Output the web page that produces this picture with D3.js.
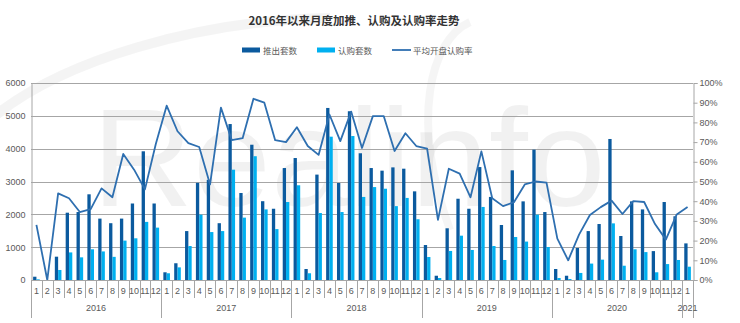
<!DOCTYPE html>
<html>
<head>
<meta charset="utf-8">
<script src="https://cdn.jsdelivr.net/npm/d3@7"></script>
<style>
  html, body { margin: 0; padding: 0; background: #fff; }
  svg { display: block; font-family: "Liberation Sans", Arial, "Noto Sans CJK SC", sans-serif; }
</style>
</head>
<body>
<svg id="chart" width="740" height="323"></svg>
<script>
// Month labels along the category axis (Jan 2016 – Jan 2021)
const months = [
  1,2,3,4,5,6,7,8,9,10,11,12,
  1,2,3,4,5,6,7,8,9,10,11,12,
  1,2,3,4,5,6,7,8,9,10,11,12,
  1,2,3,4,5,6,7,8,9,10,11,12,
  1,2,3,4,5,6,7,8,9,10,11,12,
  1
];
const years = ["2016", "2017", "2018", "2019", "2020", "2021"];
const yearMonthCounts = [12, 12, 12, 12, 12, 1];

// 推出套数 (units launched)
const launched = [
  100, 0, 710, 2050, 2070, 2610, 1870, 1730, 1870, 2330, 3920, 2330,
  235, 510, 1490, 2960, 3050, 1730, 4750, 2650, 4120, 2400, 2170, 3410,
  3715, 335, 3210, 5240, 2955, 5140, 3860, 3410, 3330, 3430, 3390, 2700,
  1065, 130, 1575, 2475, 2170, 3440, 2530, 1675, 3340, 2395, 3970, 2070,
  335, 130, 975, 1490, 1705, 4295, 1340, 2395, 2150, 880, 2375, 1940,
  1115
];
// 认购套数 (units subscribed)
const subscribed = [
  20, 0, 305, 840, 690, 935, 870, 705, 1200, 1270, 1770, 1595,
  205, 385, 1035, 1990, 1460, 1490, 3360, 1900, 3770, 2150, 1550, 2375,
  2885, 205, 2040, 4365, 2070, 4385, 2530, 2830, 2780, 2250, 2500, 1850,
  700, 60, 885, 1350, 915, 2225, 1035, 610, 1310, 1170, 1990, 1005,
  60, 30, 215, 500, 620, 1725, 435, 935, 850, 235, 485, 610,
  405
];
// 平均开盘认购率 (%)
const rate = [
  28, 0, 44, 41.5, 34.5, 36, 46.5, 42, 64, 56, 46, 69,
  88.5, 75.5, 69.5, 67.5, 48.5, 87.5, 71, 72, 92, 90, 71, 70,
  77.5, 68, 63.5, 84, 70.5, 85.5, 67, 83.2, 83.2, 65.5, 74.5, 68,
  66.7, 30.5, 56.5, 54, 42, 65.3, 41.5, 37.5, 39.5, 48.5, 50, 49.4,
  21, 10, 23, 33, 37, 40.3, 33.5, 40, 39.6, 28.4, 20.5, 33.3,
  37
];
const leftTicks = [0, 1000, 2000, 3000, 4000, 5000, 6000];
const rightTicks = [0, 10, 20, 30, 40, 50, 60, 70, 80, 90, 100];
const seriesNames = ["推出套数", "认购套数", "平均开盘认购率"];
const title = "2016年以来月度加推、认购及认购率走势";

const colDark = "#0b5a9e";
const colLight = "#00b0f0";
const colLine = "#2e6fb0";
const gridCol = "#a6a6a6";
const textCol = "#595959";

const svg = d3.select("#chart");
const W = 740, H = 323;
const plot = { left: 31, right: 693, top: 83, bottom: 280 };

const idx = d3.range(months.length);
const x = d3.scaleBand().domain(idx).range([plot.left, plot.right]).padding(0);
const xs = d3.scaleBand().domain([0, 1]).range([0, x.bandwidth()]).paddingOuter(0.64).paddingInner(0);
const yL = d3.scaleLinear().domain([0, 6000]).range([plot.bottom, plot.top]);
const yR = d3.scaleLinear().domain([0, 100]).range([plot.bottom, plot.top]);

// Faint background watermark
const wm = svg.append("g").attr("pointer-events", "none");
wm.append("path")
  .attr("d", "M -10 120 C 60 60, 200 20, 330 18")
  .attr("fill", "none").attr("stroke", "#000").attr("stroke-opacity", 0.045).attr("stroke-width", 10);
wm.append("path")
  .attr("d", "M 470 22 C 430 40, 410 120, 450 230")
  .attr("fill", "none").attr("stroke", "#000").attr("stroke-opacity", 0.04).attr("stroke-width", 8);
wm.append("text")
  .attr("x", 92).attr("y", 206)
  .attr("font-size", 140)
  .attr("font-family", "Liberation Sans, Arial, sans-serif")
  .attr("fill", "#000").attr("fill-opacity", 0.055)
  .text("Realinfo");

// Horizontal gridlines
svg.append("g").selectAll("line").data(leftTicks.filter(d => d > 0)).join("line")
  .attr("x1", plot.left).attr("x2", plot.right)
  .attr("y1", d => Math.round(yL(d)) + 0.5).attr("y2", d => Math.round(yL(d)) + 0.5)
  .attr("stroke", gridCol).attr("stroke-width", 1);

// Left axis
const axL = svg.append("g").attr("transform", `translate(${plot.left + 0.5},0)`)
  .call(d3.axisLeft(yL).tickValues(leftTicks).tickSize(0).tickPadding(6).tickFormat(d3.format("d")));
axL.select(".domain").attr("stroke", gridCol);
axL.selectAll("text").attr("fill", textCol).attr("font-size", 9);

// Right axis
const axR = svg.append("g").attr("transform", `translate(${plot.right + 0.5},0)`)
  .call(d3.axisRight(yR).tickValues(rightTicks).tickSize(4).tickPadding(2).tickFormat(d => d + "%"));
axR.select(".domain").attr("stroke", gridCol);
axR.selectAll("line").attr("stroke", gridCol);
axR.selectAll("text").attr("fill", textCol).attr("font-size", 9);

// Bars
const bars = svg.append("g");
bars.selectAll("rect.dark").data(idx).join("rect").attr("class", "dark")
  .attr("x", i => x(i) + xs(0)).attr("width", xs.bandwidth())
  .attr("y", i => yL(launched[i])).attr("height", i => yL(0) - yL(launched[i]))
  .attr("fill", colDark);
bars.selectAll("rect.light").data(idx).join("rect").attr("class", "light")
  .attr("x", i => x(i) + xs(1)).attr("width", xs.bandwidth())
  .attr("y", i => yL(subscribed[i])).attr("height", i => yL(0) - yL(subscribed[i]))
  .attr("fill", colLight);

// Subscription rate line
const line = d3.line().x(i => x(i) + x.bandwidth() / 2).y(i => yR(rate[i]));
svg.append("path").datum(idx).attr("d", line)
  .attr("fill", "none").attr("stroke", colLine).attr("stroke-width", 1.8).attr("stroke-linejoin", "round");

// Category axis: baseline, month separators, year separators
const cat = svg.append("g");
cat.append("line").attr("x1", plot.left).attr("x2", plot.right)
  .attr("y1", plot.bottom + 0.5).attr("y2", plot.bottom + 0.5).attr("stroke", gridCol);
const yearStarts = [];
{ let s = 0; yearMonthCounts.forEach(c => { yearStarts.push(s); s += c; }); }
const boundaries = d3.range(months.length + 1);
cat.selectAll("line.sep").data(boundaries).join("line").attr("class", "sep")
  .attr("x1", i => Math.round(i < months.length ? x(i) : plot.right) + 0.5)
  .attr("x2", i => Math.round(i < months.length ? x(i) : plot.right) + 0.5)
  .attr("y1", plot.bottom)
  .attr("y2", i => (yearStarts.includes(i) || i === months.length) ? 318 : 298)
  .attr("stroke", gridCol);
cat.selectAll("text.m").data(idx).join("text").attr("class", "m")
  .attr("x", i => x(i) + x.bandwidth() / 2).attr("y", 291)
  .attr("text-anchor", "middle").attr("dominant-baseline", "central")
  .attr("font-size", 9).attr("fill", textCol)
  .text(i => months[i]);
cat.selectAll("text.y").data(years).join("text").attr("class", "y")
  .attr("x", (d, k) => {
    const a = x(yearStarts[k]);
    const b = x(yearStarts[k] + yearMonthCounts[k] - 1) + x.bandwidth();
    return (a + b) / 2;
  })
  .attr("y", 308)
  .attr("text-anchor", "middle").attr("dominant-baseline", "central")
  .attr("font-size", 9).attr("fill", textCol)
  .text(d => d);

// Title
svg.append("text").attr("x", 354).attr("y", 20)
  .attr("text-anchor", "middle").attr("dominant-baseline", "central")
  .attr("font-size", 11.5).attr("font-weight", "bold").attr("fill", "#333")
  .attr("font-family", "Noto Sans CJK SC, sans-serif")
  .text(title);

// Legend
const legend = svg.append("g").attr("font-family", "Noto Sans CJK SC, sans-serif");
const legItems = [
  { name: seriesNames[0], x: 242, type: "bar", color: colDark },
  { name: seriesNames[1], x: 317, type: "bar", color: colLight },
  { name: seriesNames[2], x: 392, type: "line", color: colLine }
];
legItems.forEach(it => {
  if (it.type === "bar") {
    legend.append("rect").attr("x", it.x).attr("y", 47.5).attr("width", 18).attr("height", 5).attr("fill", it.color);
  } else {
    legend.append("line").attr("x1", it.x).attr("x2", it.x + 19).attr("y1", 50).attr("y2", 50)
      .attr("stroke", it.color).attr("stroke-width", 1.8);
  }
  legend.append("text").attr("x", it.x + 21).attr("y", 50)
    .attr("dominant-baseline", "central").attr("font-size", 8.5).attr("fill", textCol)
    .text(it.name);
});
</script>
</body>
</html>
